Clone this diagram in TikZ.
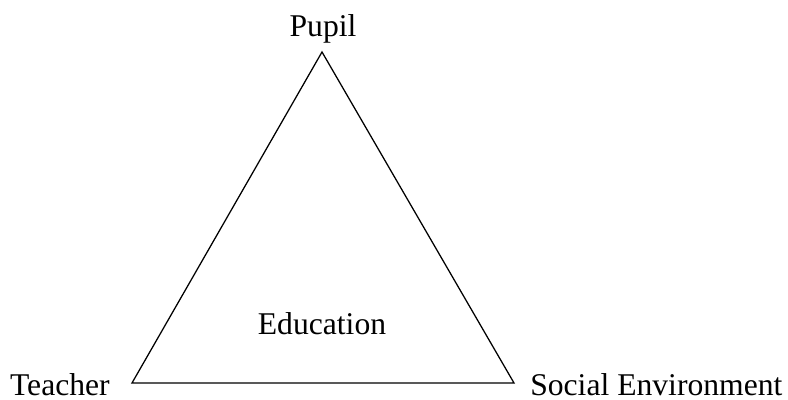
\documentclass[tikz,border=0pt]{standalone}
\usepackage{fontspec}
\setmainfont{Liberation Serif}
\begin{document}
\begin{tikzpicture}[
    vertexLabel/.style = {inner sep = 0pt, font = \fontsize{22.5}{26}\selectfont}
    ]

    \useasboundingbox (0,0) rectangle (19.7,10);

    %% Drawing the corners of the triangle
    \draw
    (8.05,8.7)
    coordinate (pupilCorner)
    (3.3,0.425)
    coordinate (teacherCorner)
    (12.85,0.425)
    coordinate (socialCorner)
    ;

    \draw [line join = miter, line width = 0.9pt]
    (pupilCorner) -- (teacherCorner) -- (socialCorner) -- cycle
    ;

    %% Drawing the labels
    \node [vertexLabel, anchor = base] (pupil) at (8.075,9.075) {Pupil};
    \node [vertexLabel, anchor = base east] (teacher) at (2.75,0.1) {Teacher};
    \node [vertexLabel, anchor = base west] (social) at (13.25,0.1) {Social Environment};
    \node [vertexLabel, anchor = base] (education) at (8.05,1.625) {Education};

\end{tikzpicture}
\end{document}
